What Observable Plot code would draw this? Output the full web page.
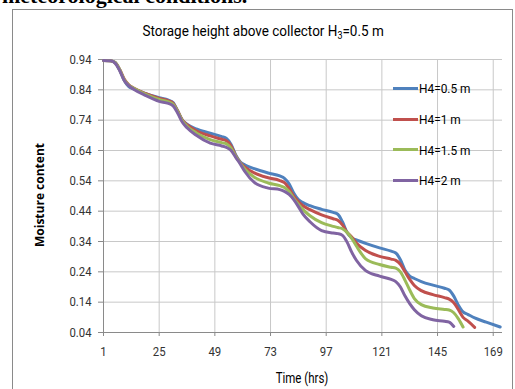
<!DOCTYPE html>
<html>
<head>
<meta charset="utf-8">
<script src="https://cdn.jsdelivr.net/npm/d3@7"></script>
<script src="https://cdn.jsdelivr.net/npm/@observablehq/plot@0.6"></script>
<style>
  body { margin: 0; background: #fff; }
  #chart { position: relative; width: 515px; height: 389px; overflow: hidden; background: #fff;
           font-family: Roboto, "Open Sans", sans-serif; color: #404040; }
  #chart svg { position: absolute; left: 0; top: 0; }
  .frame { position: absolute; left: 12px; top: 9px; width: 501px; height: 400px; border: 1px solid #8a8a8a; box-sizing: border-box; }
  .above { position: absolute; left: 2px; top: -17px; font: bold 22px "Liberation Serif", serif; color: #000; white-space: nowrap; }
  .title { position: absolute; left: 12px; width: 503px; top: 22px; text-align: center; font-size: 15px; color: #000; }
  .title span { display: inline-block; transform: scaleX(0.9); white-space: nowrap; }
  .title sub { font-size: 10px; vertical-align: -3px; line-height: 0; }
  .ylabel { position: absolute; left: 39px; top: 195px; transform: translate(-50%, -50%) rotate(-90deg);
            font: bold 12px "Open Sans", sans-serif; color: #000; white-space: nowrap; }
  .xlabel { position: absolute; left: 302px; top: 370px; transform: translateX(-50%) scaleX(0.82); font-size: 14px; color: #000; white-space: nowrap; }
  .legend { position: absolute; left: 393px; top: 73px; }
  .legend .item { display: flex; align-items: center; height: 30.7px; font-size: 13.5px; color: #000; }
  .legend .swatch { width: 25px; height: 3px; margin-right: 1px; flex: none; }
  .legend .name { display: inline-block; transform: scaleX(0.88); transform-origin: left center; white-space: nowrap; }
</style>
</head>
<body>
<div id="chart">
  <div class="above">meteorological conditions.</div>
  <div class="frame"></div>
  <div class="title"><span>Storage height above collector H<sub>3</sub>=0.5 m</span></div>
  <div class="ylabel">Moisture content</div>
  <div class="xlabel">Time (hrs)</div>
  <div class="legend" id="legend"></div>
</div>
<script>
// Drying time (hours) at which moisture content is sampled
const hours = [1, 4, 6, 8, 10, 12, 14, 19, 25, 29, 31, 33, 35, 37, 41, 47, 52, 54, 56, 58, 60, 62, 66, 72,
  77, 79, 81, 83, 85, 87, 90, 95, 100, 102, 104, 106, 108, 110, 114, 120, 125, 127, 129, 131, 133, 135,
  138, 143, 148, 150, 152, 154, 156, 158, 161, 166, 172];

// Moisture content for each storage height H4 (null once drying has finished)
const h4_05 = [0.937, 0.936, 0.930, 0.905, 0.870, 0.850, 0.843, 0.828, 0.814, 0.806, 0.798, 0.770, 0.740, 0.727,
  0.711, 0.697, 0.686, 0.680, 0.660, 0.625, 0.602, 0.592, 0.580, 0.566, 0.556, 0.548, 0.530, 0.500, 0.478, 0.468,
  0.458, 0.446, 0.436, 0.430, 0.405, 0.370, 0.352, 0.345, 0.334, 0.319, 0.308, 0.302, 0.280, 0.245, 0.226, 0.218,
  0.208, 0.196, 0.186, 0.180, 0.160, 0.130, 0.108, 0.100, 0.088, 0.074, 0.058];
const h4_1 = [0.937, 0.936, 0.930, 0.907, 0.875, 0.856, 0.846, 0.828, 0.812, 0.804, 0.796, 0.770, 0.740, 0.725,
  0.705, 0.688, 0.677, 0.672, 0.655, 0.622, 0.600, 0.585, 0.566, 0.550, 0.541, 0.534, 0.515, 0.490, 0.472, 0.458,
  0.445, 0.428, 0.415, 0.410, 0.395, 0.370, 0.355, 0.335, 0.310, 0.291, 0.282, 0.278, 0.265, 0.240, 0.215, 0.195,
  0.178, 0.165, 0.155, 0.150, 0.138, 0.115, 0.090, 0.078, 0.057, null, null];
const h4_15 = [0.937, 0.936, 0.930, 0.906, 0.872, 0.855, 0.845, 0.826, 0.808, 0.800, 0.792, 0.768, 0.738, 0.720,
  0.698, 0.676, 0.666, 0.662, 0.648, 0.620, 0.598, 0.578, 0.552, 0.533, 0.524, 0.518, 0.505, 0.482, 0.463, 0.445,
  0.425, 0.402, 0.390, 0.386, 0.382, 0.370, 0.350, 0.325, 0.283, 0.264, 0.255, 0.252, 0.240, 0.212, 0.180, 0.152,
  0.132, 0.121, 0.116, 0.114, 0.105, 0.085, 0.058, null, null, null, null];
const h4_2 = [0.937, 0.936, 0.928, 0.903, 0.870, 0.853, 0.842, 0.822, 0.802, 0.795, 0.787, 0.763, 0.733, 0.715,
  0.690, 0.664, 0.655, 0.650, 0.640, 0.617, 0.595, 0.570, 0.535, 0.516, 0.511, 0.505, 0.495, 0.478, 0.455, 0.430,
  0.405, 0.376, 0.368, 0.366, 0.360, 0.338, 0.305, 0.278, 0.244, 0.226, 0.215, 0.208, 0.190, 0.160, 0.135, 0.115,
  0.095, 0.082, 0.077, 0.074, 0.060, null, null, null, null, null, null];

const seriesNames = ["H4=0.5 m", "H4=1 m", "H4=1.5 m", "H4=2 m"];
const seriesColors = ["#4f81bd", "#c0504d", "#9bbb59", "#8064a2"];
const xTicks = [1, 25, 49, 73, 97, 121, 145, 169];
const yTicks = [0.04, 0.14, 0.24, 0.34, 0.44, 0.54, 0.64, 0.74, 0.84, 0.94];

// Long-format table for the line mark
const rows = [];
[h4_05, h4_1, h4_15, h4_2].forEach((vals, i) => {
  vals.forEach((v, j) => {
    if (v != null) rows.push({time: hours[j], moisture: v, series: seriesNames[i]});
  });
});

const gridColor = "#c8c8c8";
const axisColor = "#8a8a8a";

const chart = Plot.plot({
  width: 515,
  height: 389,
  marginLeft: 103,
  marginRight: 13,
  marginTop: 59,
  marginBottom: 57,
  style: {fontFamily: "Roboto, 'Open Sans', sans-serif", fontSize: "13.5px", color: "#404040", background: "transparent"},
  x: {domain: [1, 173]},
  y: {domain: [0.04, 0.94]},
  color: {domain: seriesNames, range: seriesColors},
  marks: [
    Plot.ruleY(yTicks.slice(1), {stroke: gridColor, strokeWidth: 1}),
    Plot.ruleX(xTicks.slice(1), {stroke: gridColor, strokeWidth: 1}),
    Plot.ruleY([0.04], {stroke: axisColor}),
    Plot.ruleX([1], {stroke: axisColor}),
    Plot.axisY({ticks: yTicks, tickSize: 5, tickPadding: 7, tickFormat: d => d.toFixed(2), label: null, stroke: axisColor, fill: "#333"}),
    Plot.axisX({ticks: xTicks, tickSize: 4, tickPadding: 10, tickFormat: d => String(d), label: null, stroke: axisColor, fill: "#333"}),
    Plot.line(rows, {x: "time", y: "moisture", stroke: "series", z: "series", strokeWidth: 3, curve: "monotone-x"})
  ]
});
document.getElementById("chart").insertBefore(chart, document.querySelector(".frame"));

// Narrow the tick labels to a condensed look
chart.querySelectorAll("g[aria-label$='tick label'] text").forEach(t => {
  const w = t.getComputedTextLength();
  t.setAttribute("textLength", (w * 0.84).toFixed(1));
  t.setAttribute("lengthAdjust", "spacingAndGlyphs");
});

// Legend entries
const legend = document.getElementById("legend");
seriesNames.forEach((name, i) => {
  const item = document.createElement("div");
  item.className = "item";
  const sw = document.createElement("span");
  sw.className = "swatch";
  sw.style.background = seriesColors[i];
  const label = document.createElement("span");
  label.className = "name";
  label.textContent = name;
  item.appendChild(sw);
  item.appendChild(label);
  legend.appendChild(item);
});
</script>
</body>
</html>
